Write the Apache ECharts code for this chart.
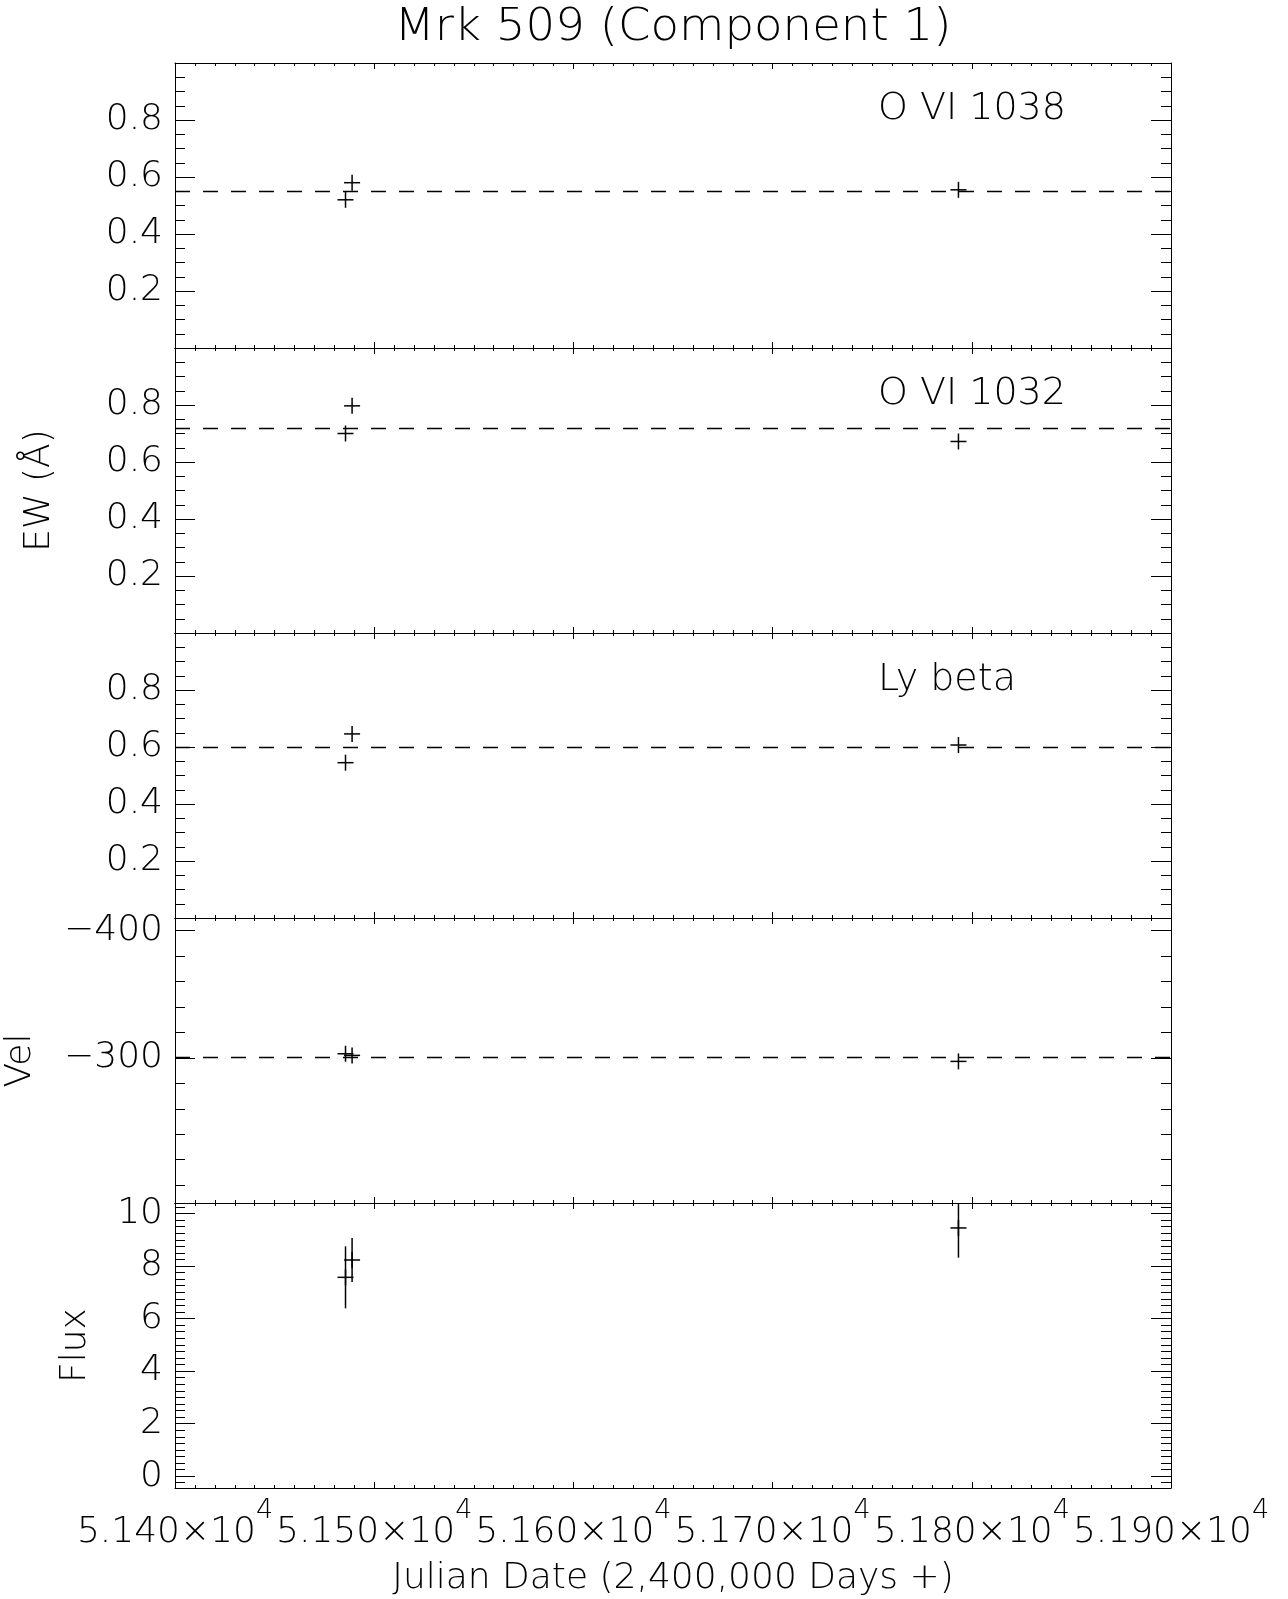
<!DOCTYPE html>
<html>
<head>
<meta charset="utf-8">
<script src="https://cdn.jsdelivr.net/npm/echarts@6/dist/echarts.min.js"></script>
<style>
  html, body { margin: 0; padding: 0; background: #fff; }
  #chart { width: 1288px; height: 1599px; }
</style>
</head>
<body>
<div id="chart"></div>
<script>
// Observation epochs (Julian Date - 2,400,000) for the three visits
const julianDates = [51488.9, 51485.6, 51793.3];

// Equivalent widths (Angstrom)
const ewO6_1038 = [0.580, 0.520, 0.555];
const ewO6_1032 = [0.797, 0.700, 0.672];
const ewLyBeta  = [0.646, 0.545, 0.607];

// Velocity of the component (km/s)
const velocity = [-302.0, -303.3, -297.3];

// Continuum flux and its uncertainty
const flux    = [8.23, 7.57, 9.45];
const fluxErr = [0.84, 1.18, 1.13];

// Panel captions
const lineNames = ['O VI 1038', 'O VI 1032', 'Ly beta'];

// Tick labels
const xTickValues    = [51400, 51500, 51600, 51700, 51800, 51900];
const ewTickLabels   = [0.2, 0.4, 0.6, 0.8];
const velTickLabels  = [-400, -300];
const fluxTickLabels = [0, 2, 4, 6, 8, 10];

const FONT = 'DejaVu Sans';
const FW = 200;
const INK = '#000';
const PLOT_LEFT = 175, PLOT_RIGHT = 117, PLOT_TOP = 63, PANEL_H = 285;
const PLOT_CENTER_X = PLOT_LEFT + (1288 - PLOT_LEFT - PLOT_RIGHT) / 2;

function steps(a, b, s) {
  const out = [];
  const n = Math.round((b - a) / s);
  for (let i = 0; i <= n; i++) out.push(+(a + i * s).toFixed(6));
  return out;
}
function minusSign(v) { return v < 0 ? '\u2212' + Math.abs(v) : String(v); }
function mean(arr) { return arr.reduce((s, v) => s + v, 0) / arr.length; }

const panels = [
  { values: ewO6_1038, caption: lineNames[0], min: 0, max: 1, inverse: false,
    major: steps(0, 1, 0.2), minor: steps(0, 1, 0.05), labels: ewTickLabels,
    fmt: v => v.toFixed(1), dashed: true, name: '', nameGap: 0 },
  { values: ewO6_1032, caption: lineNames[1], min: 0, max: 1, inverse: false,
    major: steps(0, 1, 0.2), minor: steps(0, 1, 0.05), labels: ewTickLabels,
    fmt: v => v.toFixed(1), dashed: true, name: 'EW (\u00C5)', nameGap: 117 },
  { values: ewLyBeta, caption: lineNames[2], min: 0, max: 1, inverse: false,
    major: steps(0, 1, 0.2), minor: steps(0, 1, 0.05), labels: ewTickLabels,
    fmt: v => v.toFixed(1), dashed: true, name: '', nameGap: 0 },
  { values: velocity, caption: '', min: -410, max: -186, inverse: true,
    major: velTickLabels, minor: steps(-400, -200, 20), labels: velTickLabels,
    fmt: minusSign, dashed: true, name: 'Vel', nameGap: 136 },
  { values: flux, errors: fluxErr, caption: '', min: -0.45, max: 10.4, inverse: false,
    major: steps(0, 10, 2), minor: steps(-0.25, 10.25, 0.25), labels: fluxTickLabels,
    fmt: v => String(v), dashed: false, name: 'Flux', nameGap: 81 }
];

const grids = [], xAxes = [], yAxes = [], series = [], titles = [];
const captionTops = [85, 370, 656];

panels.forEach((p, i) => {
  const last = i === panels.length - 1;
  grids.push({
    left: PLOT_LEFT, right: PLOT_RIGHT, top: PLOT_TOP + i * PANEL_H, height: PANEL_H,
    outerBoundsMode: 'none', containLabel: false
  });

  const xBase = {
    type: 'value', gridIndex: i, min: 51400, max: 51900, interval: 100,
    axisLine: { show: true, onZero: false, lineStyle: { color: INK, width: 1 } },
    axisTick: { show: true, inside: true, length: 6, lineStyle: { color: INK, width: 1 } },
    minorTick: { show: true, splitNumber: 10, length: 3, lineStyle: { color: INK, width: 1 } },
    splitLine: { show: false }
  };
  xAxes.push(Object.assign({}, xBase, {
    position: 'bottom',
    name: last ? 'Julian Date (2,400,000 Days +)' : '',
    nameLocation: 'middle', nameGap: 73,
    nameTextStyle: { fontFamily: FONT, fontWeight: FW, fontSize: 36, color: INK },
    axisLabel: last ? {
      show: true, margin: 9, customValues: xTickValues,
      formatter: v => '{b|' + (v / 1e4).toFixed(3) + '\u00D710}{s|4}',
      rich: {
        b: { fontFamily: FONT, fontWeight: FW, fontSize: 36, color: INK, verticalAlign: 'bottom', lineHeight: 54 },
        s: { fontFamily: FONT, fontWeight: FW, fontSize: 27, color: INK, verticalAlign: 'top' }
      }
    } : { show: false }
  }));
  xAxes.push(Object.assign({}, xBase, { position: 'top', axisLabel: { show: false } }));

  const yCommon = {
    type: 'value', gridIndex: i, min: p.min, max: p.max, inverse: p.inverse,
    splitLine: { show: false }
  };
  const lineStyle = { color: INK, width: 1 };
  // left side: long major ticks with labels, short minor ticks
  yAxes.push(Object.assign({}, yCommon, {
    position: 'left',
    axisLine: { show: true, onZero: false, lineStyle },
    axisTick: { show: true, inside: true, length: 20, customValues: p.major, lineStyle },
    axisLabel: {
      show: true, customValues: p.labels, formatter: p.fmt, margin: 12,
      padding: [8, 0, 0, 0],
      fontFamily: FONT, fontWeight: FW, fontSize: 36, color: INK
    },
    name: p.name, nameLocation: 'middle', nameGap: p.nameGap,
    nameTextStyle: { fontFamily: FONT, fontWeight: FW, fontSize: 36, color: INK }
  }));
  yAxes.push(Object.assign({}, yCommon, {
    position: 'left',
    axisLine: { show: false },
    axisTick: { show: true, inside: true, length: 10, customValues: p.minor, lineStyle },
    axisLabel: { show: false }
  }));
  // right side: same tick marks, no labels
  yAxes.push(Object.assign({}, yCommon, {
    position: 'right',
    axisLine: { show: true, onZero: false, lineStyle },
    axisTick: { show: true, inside: true, length: 20, customValues: p.major, lineStyle },
    axisLabel: { show: false }
  }));
  yAxes.push(Object.assign({}, yCommon, {
    position: 'right',
    axisLine: { show: false },
    axisTick: { show: true, inside: true, length: 10, customValues: p.minor, lineStyle },
    axisLabel: { show: false }
  }));

  const data = p.values.map((v, k) => [julianDates[k], v, p.errors ? p.errors[k] : 0]);
  const s = {
    type: 'custom', xAxisIndex: 2 * i, yAxisIndex: 4 * i, clip: true, silent: true,
    data,
    renderItem(params, api) {
      const x = api.value(0), y = api.value(1), e = api.value(2);
      const c = api.coord([x, y]);
      const st = { stroke: INK, lineWidth: 1.5 };
      const h = 8;
      const children = [
        { type: 'line', shape: { x1: c[0] - h, y1: c[1], x2: c[0] + h, y2: c[1] }, style: st },
        { type: 'line', shape: { x1: c[0], y1: c[1] - h, x2: c[0], y2: c[1] + h }, style: st }
      ];
      if (e > 0) {
        const lo = api.coord([x, y - e]), hi = api.coord([x, y + e]);
        children.push({ type: 'line', shape: { x1: lo[0], y1: lo[1], x2: hi[0], y2: hi[1] }, style: st });
      }
      return { type: 'group', children };
    }
  };
  if (p.dashed) {
    // mean level of the three measurements
    s.markLine = {
      silent: true, symbol: ['none', 'none'], label: { show: false },
      lineStyle: { color: INK, width: 1.3, type: [15, 13] },
      data: [{ yAxis: mean(p.values) }]
    };
  }
  series.push(s);

  if (p.caption) {
    titles.push({
      text: p.caption, left: 873, top: captionTops[i],
      textStyle: { fontFamily: FONT, fontWeight: FW, fontSize: 38, color: INK }
    });
  }
});

const chart = echarts.init(document.getElementById('chart'), null, { renderer: 'canvas' });
chart.setOption({
  animation: false,
  backgroundColor: '#fff',
  title: titles,
  graphic: [{
    type: 'text', x: PLOT_CENTER_X, y: 29, scaleX: 1.06,
    style: {
      text: 'Mrk 509 (Component 1)', align: 'center', verticalAlign: 'middle',
      fontFamily: FONT, fontWeight: FW, fontSize: 44, fill: INK
    }
  }],
  grid: grids,
  xAxis: xAxes,
  yAxis: yAxes,
  series
});
</script>
</body>
</html>
